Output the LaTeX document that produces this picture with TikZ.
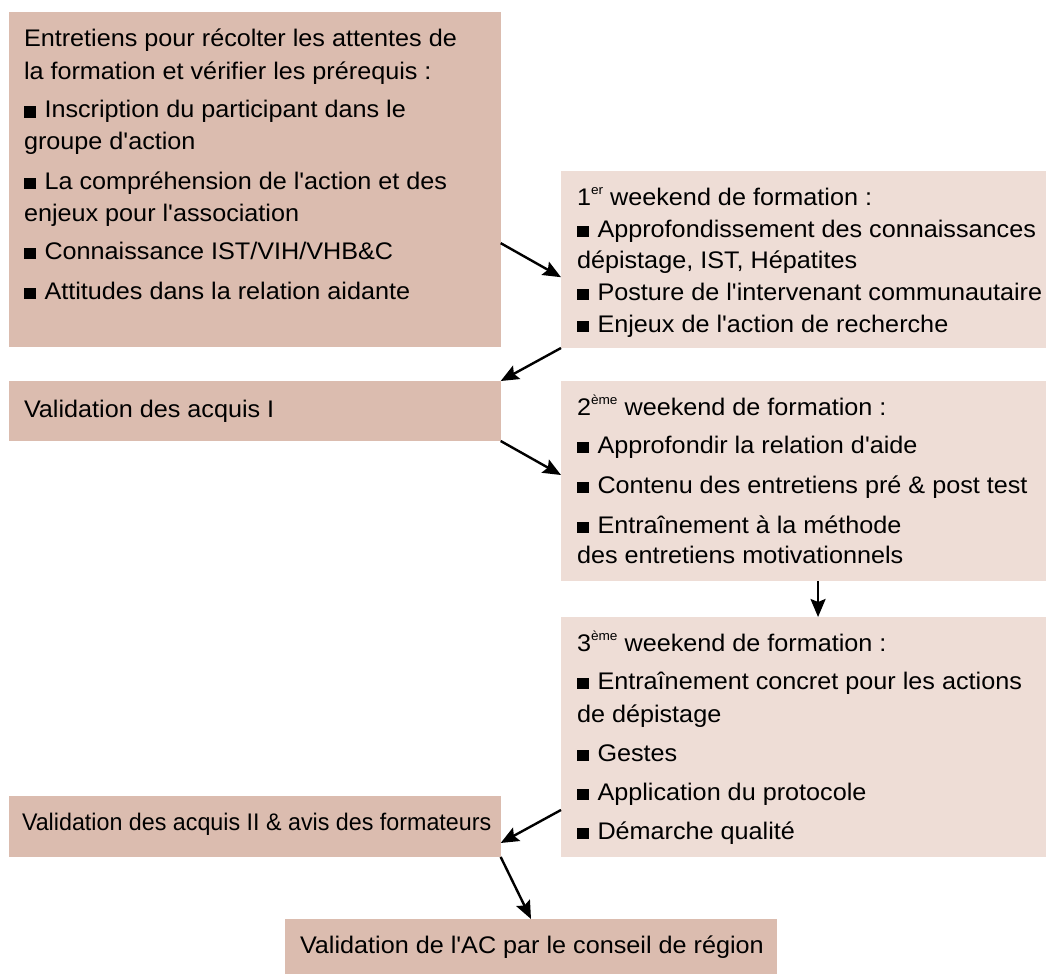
\documentclass[tikz,border=0pt]{standalone}
\usepackage{fontspec}
\newfontfamily\fnt{Liberation Sans}[FakeStretch=1.05]
\newfontfamily\fntn{Liberation Sans}[FakeStretch=0.97]
\usetikzlibrary{calc,arrows.meta}
\definecolor{boxdark}{RGB}{219,188,175}
\definecolor{boxlight}{RGB}{238,221,214}
\newcommand\bsq{\rule{11.5pt}{11.5pt}\hspace{9pt}}
\newcommand\sups[1]{\raisebox{0.42em}{\fontsize{13}{13}\selectfont #1}}
\tikzset{
  dbox/.style={fill=boxdark, draw=none, inner sep=0pt, outer sep=0pt, anchor=north west},
  lbox/.style={fill=boxlight, draw=none, inner sep=0pt, outer sep=0pt, anchor=north west},
  txt/.style={inner sep=0pt, outer sep=0pt, anchor=base west, font=\fnt\fontsize{24}{28}\selectfont, text=black},
  txtn/.style={inner sep=0pt, outer sep=0pt, anchor=base west, font=\fntn\fontsize{24}{28}\selectfont, text=black},
  arr/.style={line width=2.4pt, -{Stealth[length=18pt,width=15pt,inset=3pt]}}
}
\begin{document}
\begin{tikzpicture}[x=1pt,y=-1pt]
\useasboundingbox (0,0) rectangle (1046,974);
% boxes
\node[dbox, minimum width=491.7pt, minimum height=335pt] (A) at (9,12) {};
\node[lbox, minimum width=485pt, minimum height=177pt] (B) at (561,171) {};
\node[dbox, minimum width=491.7pt, minimum height=60pt] (C) at (9,381) {};
\node[lbox, minimum width=485pt, minimum height=200pt] (D) at (561,381) {};
\node[lbox, minimum width=485pt, minimum height=240pt] (E) at (561,617) {};
\node[dbox, minimum width=491.7pt, minimum height=61pt] (F) at (9,796) {};
\node[dbox, minimum width=492pt, minimum height=55pt] (G) at (285,919) {};
% box A text
\node[txt] (a1) at (24,46.7) {Entretiens pour récolter les attentes de};
\node[txt] (a2) at (24,79) {la formation et vérifier les prérequis :};
\node[txt] (a3) at (24,117.5) {\bsq Inscription du participant dans le};
\node[txt] (a4) at (24,149) {groupe d'action};
\node[txt] (a5) at (24,189) {\bsq La compréhension de l'action et des};
\node[txt] (a6) at (24,221) {enjeux pour l'association};
\node[txt] (a7) at (24,259) {\bsq Connaissance IST/VIH/VHB\&C};
\node[txt] (a8) at (24,299) {\bsq Attitudes dans la relation aidante};
% box B text
\node[txt] (b1) at (577,205) {1\sups{er} weekend de formation :};
\node[txt] (b2) at (577,237) {\bsq Approfondissement des connaissances};
\node[txt] (b3) at (577,268) {dépistage, IST, Hépatites};
\node[txt] (b4) at (577,300) {\bsq Posture de l'intervenant communautaire};
\node[txt] (b5) at (577,332) {\bsq Enjeux de l'action de recherche};
% box C text
\node[txt] (c1) at (24,417) {Validation des acquis I};
% box D text
\node[txt] (d1) at (577,415) {2\sups{ème} weekend de formation :};
\node[txt] (d2) at (577,453) {\bsq Approfondir la relation d'aide};
\node[txt] (d3) at (577,493) {\bsq Contenu des entretiens pré \& post test};
\node[txt] (d4) at (577,533) {\bsq Entraînement à la méthode};
\node[txt] (d5) at (577,563) {des entretiens motivationnels};
% box E text
\node[txt] (e1) at (577,651) {3\sups{ème} weekend de formation :};
\node[txt] (e2) at (577,689) {\bsq Entraînement concret pour les actions};
\node[txt] (e3) at (577,722) {de dépistage};
\node[txt] (e4) at (577,761) {\bsq Gestes};
\node[txt] (e5) at (577,800) {\bsq Application du protocole};
\node[txt] (e6) at (577,839) {\bsq Démarche qualité};
% box F, G text
\node[txtn] (f1) at (22,830) {Validation des acquis II \& avis des formateurs};
\node[txt] (g1) at (300,953) {Validation de l'AC par le conseil de région};
% arrows
\draw[arr] ($(A.north east)!0.69!(A.south east)$) -- ($(B.north west)!0.6!(B.south west)$);
\draw[arr] (B.south west) -- (C.north east);
\draw[arr] (C.south east) -- ($(D.north west)!0.47!(D.south west)$);
\coordinate (dd) at ($(D.south west)!0.53!(D.south east)$);
\draw[arr] (dd) -- (dd |- E.north);
\draw[arr] ($(E.north west)!0.804!(E.south west)$) -- ($(F.north east)!0.77!(F.south east)$);
\draw[arr] (F.south east) -- (G.north);
\end{tikzpicture}
\end{document}
